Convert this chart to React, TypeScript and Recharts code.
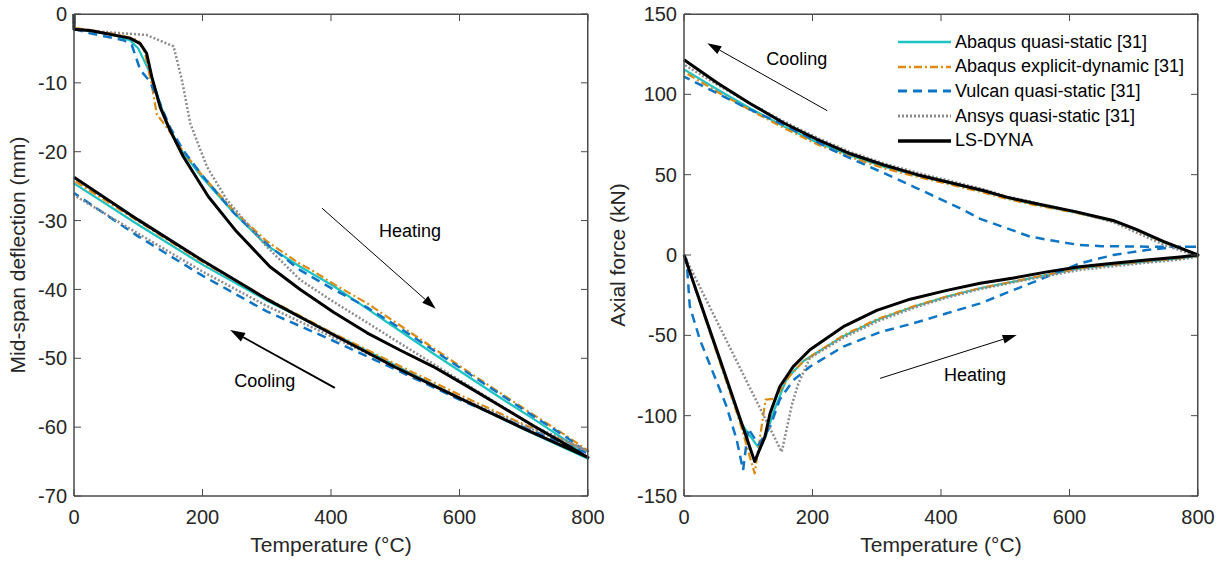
import { LineChart, Line, XAxis, YAxis, ReferenceLine, ReferenceDot } from 'recharts'

type Pt = [number, number]

// ---- Mid-span deflection (mm) vs temperature (°C): heating branch, then cooling branch
const deflAbaqusQsHeat: Pt[] = [[0, 0], [0, -2.2], [25, -2.5], [60, -3.0], [87, -3.8], [100, -5.0], [116, -8.1], [129, -11.5], [144, -15.9], [170, -20.2], [200, -23.8], [250, -29.0], [300, -33.6], [352, -36.7], [404, -39.5], [456, -42.8], [507, -46.0], [559, -49.3], [611, -52.5], [663, -55.7], [715, -58.8], [767, -62.0], [800, -64.6]]
const deflAbaqusQsCool: Pt[] = [[700, -60.3], [600, -55.8], [500, -51.0], [400, -46.3], [300, -41.6], [200, -36.4], [100, -30.6], [0, -24.6]]

const deflAbaqusExHeat: Pt[] = [[0, 0], [0, -2.0], [30, -2.4], [70, -3.0], [100, -3.8], [110, -5.5], [121, -10.3], [129, -14.6], [144, -16.4], [170, -20.0], [200, -23.5], [250, -28.7], [300, -33.0], [352, -36.3], [370, -37.2], [404, -39.2], [456, -42.0], [507, -45.2], [559, -48.5], [611, -51.8], [663, -55.0], [715, -58.2], [767, -61.3], [800, -63.4]]
const deflAbaqusExCool: Pt[] = [[700, -59.6], [600, -55.3], [500, -50.8], [400, -46.2], [300, -41.3], [200, -36.0], [100, -30.1], [0, -24.2]]

const deflVulcanHeat: Pt[] = [[0, 0], [0, -2.2], [25, -2.8], [77, -3.8], [90, -4.5], [103, -8.1], [118, -9.8], [134, -13.0], [149, -16.4], [170, -19.8], [201, -23.6], [250, -29.0], [300, -33.4], [352, -37.2], [404, -40.0], [456, -42.6], [507, -45.6], [559, -48.8], [611, -52.0], [663, -55.2], [715, -58.4], [767, -61.5], [800, -63.8]]
const deflVulcanCool: Pt[] = [[700, -60.0], [600, -56.0], [500, -51.6], [400, -47.3], [300, -43.2], [200, -38.0], [100, -32.3], [0, -26.0]]

const deflAnsysHeat: Pt[] = [[0, 0], [0, -2.3], [113, -3.05], [155, -4.7], [168, -9.6], [181, -15.9], [207, -22.2], [238, -27.0], [300, -33.8], [352, -38.6], [404, -41.8], [456, -44.8], [507, -47.8], [559, -50.8], [611, -53.8], [663, -56.8], [715, -59.9], [767, -62.0], [800, -63.5]]
const deflAnsysCool: Pt[] = [[700, -59.8], [600, -55.7], [500, -51.2], [400, -46.8], [300, -42.4], [200, -37.4], [100, -31.9], [0, -26.3]]

const deflLsDynaHeat: Pt[] = [[0, 0], [0, -2.2], [25, -2.4], [87, -3.5], [103, -4.3], [113, -5.7], [121, -9.1], [134, -13.5], [149, -16.8], [170, -20.7], [209, -26.5], [253, -31.6], [305, -36.7], [352, -40.0], [404, -43.3], [456, -46.3], [507, -48.8], [559, -51.2], [611, -54.0], [663, -56.9], [715, -59.8], [767, -62.6], [800, -64.4]]
const deflLsDynaCool: Pt[] = [[700, -60.2], [600, -55.8], [500, -51.3], [400, -46.4], [300, -41.4], [200, -35.8], [100, -29.9], [0, -23.7]]

// ---- Axial force (kN) vs temperature (°C)
const forceAbaqusQsHeat: Pt[] = [[0, 0], [88, -104], [100, -111], [118, -121], [128, -112], [140, -97], [160, -77], [186, -66], [248, -50.5], [300, -40.5], [357, -32.2], [409, -25.9], [461, -20.7], [513, -16.6], [565, -12.4], [616, -8.3], [668, -6.2], [720, -4.1], [772, -2.1], [800, -0.6]]
const forceAbaqusQsCool: Pt[] = [[800, 0], [746, 8.0], [704, 15.5], [668, 21], [609, 26.5], [547, 31.5], [502, 35.5], [467, 39.5], [415, 44.5], [363, 49.5], [311, 55], [259, 62], [207, 70], [156, 80], [104, 91], [52, 103], [0, 115.5]]

const forceAbaqusExHeat: Pt[] = [[0, 0], [87, -104], [110, -136], [127, -90], [141, -89.5], [165, -75], [186, -66], [248, -50], [300, -40], [357, -32], [409, -25.8], [461, -20.6], [513, -16.5], [565, -12.3], [616, -8.3], [668, -6.1], [720, -4.0], [772, -2.0], [800, -0.5]]
const forceAbaqusExCool: Pt[] = [[800, 0], [746, 8], [704, 15.5], [668, 21], [609, 26.3], [547, 31], [502, 35], [467, 38.8], [415, 43.8], [363, 48.7], [311, 54], [259, 61], [207, 69], [156, 79], [104, 90], [52, 101.5], [0, 114]]

const forceVulcanHeat: Pt[] = [[0, 0], [4, -3], [9, -32], [25, -53], [46, -74], [66, -94], [82, -115], [92, -134], [100, -108], [116, -118], [134, -107], [149, -90], [170, -78], [196, -69.5], [248, -57], [305, -48], [357, -42.5], [409, -36.3], [461, -30.1], [513, -21.8], [565, -13.5], [616, -5.2], [668, 0], [720, 3.1], [772, 5.2], [800, 5.2]]
const forceVulcanCool: Pt[] = [[720, 5.2], [650, 5.5], [616, 6.2], [580, 8.5], [538, 11.5], [500, 17], [461, 22.5], [430, 29], [398, 35], [360, 42], [311, 51], [260, 60], [233, 65], [200, 72], [150, 82], [100, 91], [50, 101], [0, 111]]

const forceAnsysHeat: Pt[] = [[0, 0], [152, -122.5], [160, -108], [168, -93], [178, -80], [196, -64], [248, -51.5], [300, -41.5], [357, -33], [409, -26.5], [461, -21.2], [513, -17], [565, -13], [616, -9.3], [668, -7], [720, -4.8], [772, -2.8], [800, -1.0]]
const forceAnsysCool: Pt[] = [[746, 6.5], [704, 14], [668, 20.5], [609, 27], [547, 32.5], [502, 36.5], [467, 40.8], [415, 46], [363, 51.2], [311, 57], [259, 64], [207, 73], [156, 83], [104, 94], [52, 106], [0, 118.5]]

const forceLsDynaHeat: Pt[] = [[0, 0], [56, -65], [110, -128.5], [126, -113], [134, -98.5], [149, -82], [170, -69.5], [196, -59], [248, -44.6], [300, -34.5], [352, -27.5], [409, -22], [461, -17.6], [513, -14.3], [565, -10.5], [616, -7.3], [668, -5.2], [720, -3.1], [772, -1.2], [800, 0]]
const forceLsDynaCool: Pt[] = [[746, 8.5], [704, 16], [668, 21.5], [609, 27], [547, 32], [502, 36], [467, 40], [415, 45], [363, 50], [311, 56], [259, 63], [207, 72], [156, 82], [104, 94], [52, 107], [0, 121.5]]

const tempTicks = [0, 200, 400, 600, 800]
const deflTicks = [-70, -60, -50, -40, -30, -20, -10, 0]
const forceTicks = [-150, -100, -50, 0, 50, 100, 150]

const seriesNames = [
  'Abaqus quasi-static [31]',
  'Abaqus explicit-dynamic [31]',
  'Vulcan quasi-static [31]',
  'Ansys quasi-static [31]',
  'LS-DYNA',
]

interface SeriesStyle { color: string; width: number; dash?: string }

const STYLES: SeriesStyle[] = [
  { color: '#1DC2C2', width: 2.2 },
  { color: '#DD8A12', width: 2.2, dash: '8 3 2 3' },
  { color: '#0E74C4', width: 2.5, dash: '9 6' },
  { color: '#8C8C8C', width: 2.5, dash: '2 2' },
  { color: '#000000', width: 3 },
]

// which axis pair each series is bound to: the mirror axes share the same
// domain and range as the labelled ones
const AXIS_PAIRS: [string | number, string | number][] = [
  ['mt', 'mr'],
  ['mb', 'ml'],
  [0, 0],
  [0, 0],
  [0, 0],
]

const AXIS = '#4a4a4a'
const TEXT = '#262626'
const FONT = '"Liberation Sans", Arial, Helvetica, sans-serif'
const TICK_LEN = 7
const PLOT_W = 514
const PLOT_H = 482

const toRows = (heat: Pt[], cool: Pt[]) => [...heat, ...cool].map(([t, v]) => ({ t, v }))

const deflSeries = [
  toRows(deflAbaqusQsHeat, deflAbaqusQsCool),
  toRows(deflAbaqusExHeat, deflAbaqusExCool),
  toRows(deflVulcanHeat, deflVulcanCool),
  toRows(deflAnsysHeat, deflAnsysCool),
  toRows(deflLsDynaHeat, deflLsDynaCool),
]

const forceSeries = [
  toRows(forceAbaqusQsHeat, forceAbaqusQsCool),
  toRows(forceAbaqusExHeat, forceAbaqusExCool),
  toRows(forceVulcanHeat, forceVulcanCool),
  toRows(forceAnsysHeat, forceAnsysCool),
  toRows(forceLsDynaHeat, forceLsDynaCool),
]

// arrow drawn by ReferenceLine: head sits on the second segment point
const arrowShape = (strokeWidth: number, head: number) => (p: any) => {
  const { x1, y1, x2, y2 } = p
  const a = Math.atan2(y2 - y1, x2 - x1)
  const hw = head * 0.32
  const bx = x2 - head * Math.cos(a)
  const by = y2 - head * Math.sin(a)
  const pts = [
    `${x2},${y2}`,
    `${bx + hw * Math.sin(a)},${by - hw * Math.cos(a)}`,
    `${bx - hw * Math.sin(a)},${by + hw * Math.cos(a)}`,
  ].join(' ')
  return (
    <g>
      <line x1={x1} y1={y1} x2={bx} y2={by} stroke="#000" strokeWidth={strokeWidth} />
      <polygon points={pts} fill="#000" />
    </g>
  )
}

const noteShape = (text: string) => (p: any) => (
  <text x={p.cx} y={p.cy} textAnchor="middle" dominantBaseline="central" fontSize={18} fill="#000" fontFamily={FONT}>
    {text}
  </text>
)

const xTitle = (props: any) => {
  const vb = props?.viewBox ?? { x: 74, y: 496, width: 514, height: 30 }
  return (
    <text x={vb.x + vb.width / 2} y={552} textAnchor="middle" fontSize={21} fill={TEXT} fontFamily={FONT}>
      Temperature (°C)
    </text>
  )
}

const yTitle = (label: string, bx: number) => (props: any) => {
  const vb = props?.viewBox ?? { x: 24, y: 14, width: 60, height: 482 }
  const cy = vb.y + vb.height / 2
  return (
    <text x={bx} y={cy} transform={`rotate(-90, ${bx}, ${cy})`} textAnchor="middle" fontSize={21} fill={TEXT} fontFamily={FONT}>
      {label}
    </text>
  )
}

const blank = () => ''

interface PanelProps {
  series: { t: number; v: number }[][]
  yDomain: [number, number]
  yTicks: number[]
  yLabel: string
  yLabelX: number
  left: number
  children?: React.ReactNode
}

// plot box: 514 x 482, inset so that tick labels never touch the svg edge
function Panel({ series, yDomain, yTicks, yLabel, yLabelX, left, children }: PanelProps) {
  const tickStyle = { fontSize: 20, fill: TEXT, fontFamily: FONT }
  const mirrorX = { type: 'number' as const, dataKey: 't', domain: [0, 800], ticks: tempTicks, stroke: AXIS, mirror: true, tickSize: TICK_LEN, tickFormatter: blank }
  const mirrorY = { type: 'number' as const, domain: yDomain, ticks: yTicks, stroke: AXIS, mirror: true, tickSize: TICK_LEN, tickFormatter: blank }
  return (
    <div style={{ position: 'relative' }}>
      <LineChart width={left + 60 + PLOT_W + 25} height={563} margin={{ top: 14, right: 25, bottom: 37, left }}>
        {/* labelled axes */}
        <XAxis
          type="number" dataKey="t" domain={[0, 800]} ticks={tempTicks}
          stroke={AXIS} tickLine={false} tickSize={0} tickMargin={14} tick={tickStyle} height={30}
          label={xTitle}
        />
        <YAxis
          type="number" domain={yDomain} ticks={yTicks}
          stroke={AXIS} tickLine={false} tickSize={0} tickMargin={7} tick={tickStyle} width={60}
          label={yTitle(yLabel, yLabelX)}
        />
        <XAxis xAxisId="mb" orientation="bottom" {...mirrorX} />
        <XAxis xAxisId="mt" orientation="top" {...mirrorX} />
        <YAxis yAxisId="ml" orientation="left" {...mirrorY} />
        <YAxis yAxisId="mr" orientation="right" {...mirrorY} />
        {series.map((rows, i) => (
          <Line
            key={seriesNames[i]}
            name={seriesNames[i]}
            xAxisId={AXIS_PAIRS[i][0]}
            yAxisId={AXIS_PAIRS[i][1]}
            data={rows}
            dataKey="v"
            type="linear"
            stroke={STYLES[i].color}
            strokeWidth={STYLES[i].width}
            strokeDasharray={STYLES[i].dash}
            strokeLinejoin="round"
            dot={false}
            activeDot={false}
            isAnimationActive={false}
          />
        ))}
        {children}
      </LineChart>
      {/* top and right sides of the axes box */}
      <div
        style={{
          position: 'absolute', left: left + 60, top: 14, width: PLOT_W, height: PLOT_H,
          borderTop: `1px solid ${AXIS}`, borderRight: `1px solid ${AXIS}`,
          boxSizing: 'border-box', pointerEvents: 'none',
        }}
      />
    </div>
  )
}

function LegendBox() {
  return (
    <div style={{ position: 'absolute', left: 297, top: 30, fontFamily: FONT, fontSize: 18, color: '#000' }}>
      {seriesNames.map((name, i) => (
        <div key={name} style={{ display: 'flex', alignItems: 'center', height: 24.6, whiteSpace: 'nowrap' }}>
          <svg width={56} height={10} style={{ marginRight: 2 }}>
            <line
              x1={1} y1={5} x2={54} y2={5}
              stroke={STYLES[i].color}
              strokeWidth={STYLES[i].width + 0.5}
              strokeDasharray={STYLES[i].dash}
            />
          </svg>
          <span>{name}</span>
        </div>
      ))}
    </div>
  )
}

export default function App() {
  return (
    <div style={{ position: 'absolute', left: 0, top: 0, width: 1223, height: 563, background: '#fff', overflow: 'hidden', fontFamily: FONT }}>
      <div style={{ position: 'absolute', left: 0, top: 0 }}>
        <Panel series={deflSeries} yDomain={[-70, 0]} yTicks={deflTicks} yLabel="Mid-span deflection (mm)" yLabelX={25} left={14}>
          <ReferenceLine segment={[{ x: 386, y: -28.2 }, { x: 563, y: -42.8 }]} shape={arrowShape(1, 14)} />
          <ReferenceDot x={523} y={-31.5} r={0} shape={noteShape('Heating')} />
          <ReferenceLine segment={[{ x: 406, y: -54.3 }, { x: 243, y: -45.9 }]} shape={arrowShape(1.8, 15)} />
          <ReferenceDot x={297} y={-53.3} r={0} shape={noteShape('Cooling')} />
        </Panel>
      </div>
      <div style={{ position: 'absolute', left: 600, top: 0 }}>
        <Panel series={forceSeries} yDomain={[-150, 150]} yTicks={forceTicks} yLabel="Axial force (kN)" yLabelX={25} left={24}>
          <ReferenceLine segment={[{ x: 223, y: 89.8 }, { x: 36.3, y: 131.8 }]} shape={arrowShape(1, 14)} />
          <ReferenceDot x={175.4} y={121.8} r={0} shape={noteShape('Cooling')} />
          <ReferenceLine segment={[{ x: 305, y: -76.8 }, { x: 517.8, y: -49.8 }]} shape={arrowShape(1, 14)} />
          <ReferenceDot x={453} y={-74.7} r={0} shape={noteShape('Heating')} />
        </Panel>
        <LegendBox />
      </div>
    </div>
  )
}
